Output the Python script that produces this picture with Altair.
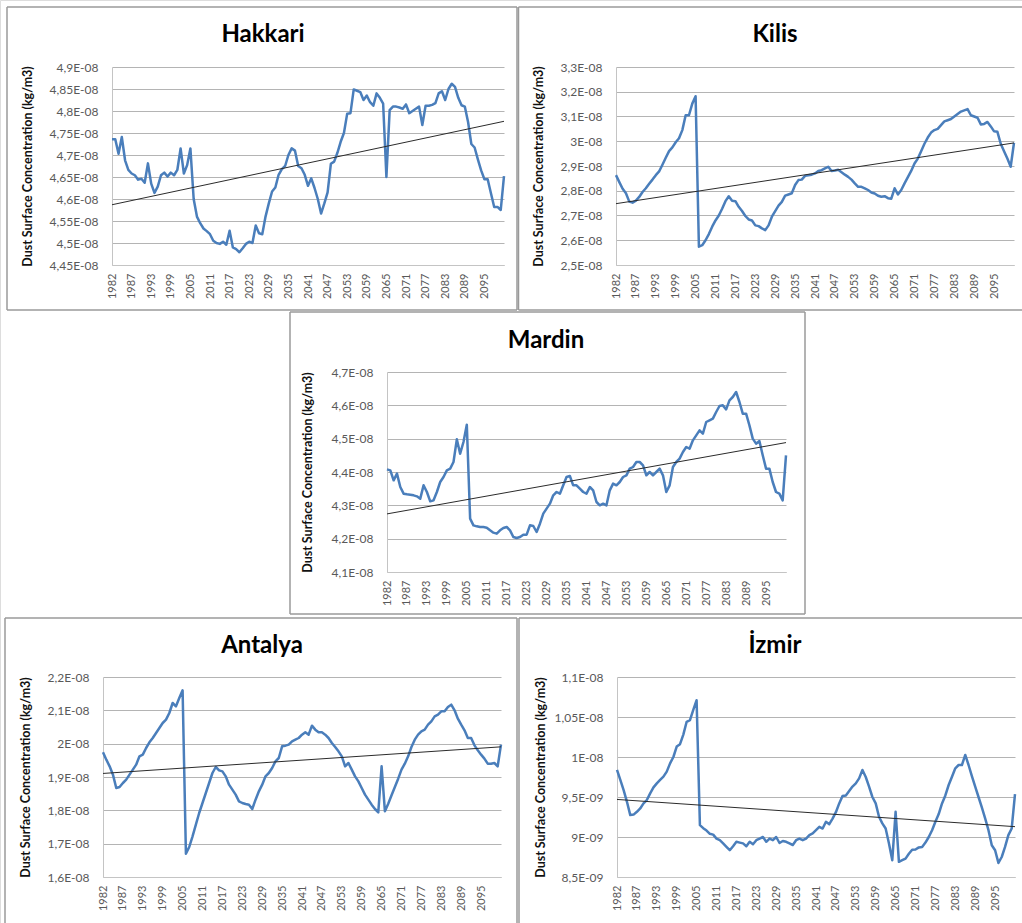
import altair as alt
import pandas as pd

# Category labels along the time axis (one label every LABEL_EVERY steps)
YEAR_LABELS = ["1982", "1987", "1993", "1999", "2005", "2011", "2017", "2023",
               "2029", "2035", "2041", "2047", "2053", "2059", "2065", "2071",
               "2077", "2083", "2089", "2095"]
LABEL_EVERY = 6

# Dust surface concentration series, in units of 1e-8 kg/m3
HAKKARI = [4.736, 4.736, 4.703, 4.741, 4.688, 4.666, 4.658, 4.654, 4.644, 4.646,
           4.637, 4.681, 4.635, 4.614, 4.628, 4.654, 4.660, 4.651, 4.660, 4.654,
           4.666, 4.715, 4.658, 4.677, 4.715, 4.600, 4.560, 4.545, 4.533, 4.527,
           4.520, 4.505, 4.500, 4.498, 4.503, 4.496, 4.528, 4.490, 4.486, 4.479,
           4.488, 4.498, 4.503, 4.500, 4.540, 4.522, 4.520, 4.560, 4.590, 4.617,
           4.626, 4.655, 4.668, 4.675, 4.700, 4.715, 4.710, 4.675, 4.670, 4.655,
           4.630, 4.647, 4.625, 4.600, 4.567, 4.590, 4.615, 4.680, 4.685, 4.705,
           4.730, 4.750, 4.794, 4.795, 4.849, 4.846, 4.843, 4.825, 4.835, 4.820,
           4.812, 4.840, 4.830, 4.817, 4.650, 4.802, 4.810, 4.810, 4.808, 4.805,
           4.815, 4.795, 4.800, 4.805, 4.810, 4.768, 4.812, 4.812, 4.814, 4.818,
           4.840, 4.845, 4.825, 4.850, 4.862, 4.855, 4.830, 4.813, 4.810, 4.775,
           4.725, 4.717, 4.690, 4.665, 4.645, 4.645, 4.613, 4.582, 4.582, 4.575,
           4.652]

KILIS = [2.863, 2.835, 2.808, 2.790, 2.756, 2.752, 2.760, 2.775, 2.795, 2.810,
         2.828, 2.845, 2.863, 2.878, 2.905, 2.933, 2.960, 2.975, 2.996, 3.012,
         3.045, 3.105, 3.105, 3.152, 3.182, 2.574, 2.580, 2.600, 2.625, 2.655,
         2.680, 2.700, 2.727, 2.758, 2.778, 2.760, 2.758, 2.735, 2.718, 2.698,
         2.684, 2.680, 2.660, 2.657, 2.648, 2.641, 2.660, 2.695, 2.718, 2.740,
         2.755, 2.780, 2.785, 2.790, 2.823, 2.843, 2.845, 2.860, 2.863, 2.865,
         2.870, 2.880, 2.883, 2.890, 2.897, 2.880, 2.882, 2.885, 2.875, 2.865,
         2.856, 2.845, 2.830, 2.816, 2.816, 2.810, 2.803, 2.793, 2.789, 2.780,
         2.776, 2.778, 2.770, 2.768, 2.810, 2.785, 2.803, 2.830, 2.855, 2.880,
         2.910, 2.930, 2.960, 2.990, 3.015, 3.035, 3.045, 3.050, 3.065, 3.080,
         3.085, 3.090, 3.100, 3.110, 3.120, 3.125, 3.130, 3.105, 3.100, 3.095,
         3.068, 3.070, 3.078, 3.060, 3.040, 3.038, 2.990, 2.960, 2.930, 2.897,
         2.994]

MARDIN = [4.408, 4.405, 4.375, 4.395, 4.355, 4.335, 4.333, 4.332, 4.330, 4.327,
          4.320, 4.360, 4.340, 4.312, 4.315, 4.340, 4.370, 4.385, 4.405, 4.410,
          4.430, 4.498, 4.455, 4.490, 4.542, 4.260, 4.240, 4.237, 4.235, 4.235,
          4.233, 4.225, 4.218, 4.215, 4.225, 4.232, 4.235, 4.225, 4.205, 4.202,
          4.205, 4.212, 4.212, 4.240, 4.238, 4.220, 4.245, 4.275, 4.290, 4.305,
          4.330, 4.340, 4.335, 4.360, 4.385, 4.388, 4.360, 4.360, 4.350, 4.340,
          4.335, 4.355, 4.345, 4.310, 4.300, 4.305, 4.300, 4.345, 4.365, 4.360,
          4.370, 4.385, 4.390, 4.410, 4.415, 4.430, 4.430, 4.420, 4.390, 4.400,
          4.390, 4.400, 4.410, 4.390, 4.340, 4.360, 4.415, 4.430, 4.440, 4.460,
          4.475, 4.470, 4.495, 4.510, 4.525, 4.515, 4.550, 4.555, 4.560, 4.580,
          4.598, 4.600, 4.588, 4.615, 4.625, 4.640, 4.610, 4.575, 4.575, 4.540,
          4.500, 4.485, 4.493, 4.450, 4.410, 4.410, 4.370, 4.340, 4.335, 4.315,
          4.450]

ANTALYA = [1.974, 1.952, 1.932, 1.907, 1.867, 1.870, 1.882, 1.892, 1.907, 1.922,
           1.937, 1.962, 1.967, 1.987, 2.004, 2.017, 2.032, 2.047, 2.062, 2.072,
           2.092, 2.122, 2.112, 2.137, 2.160, 1.670, 1.690, 1.722, 1.757, 1.792,
           1.822, 1.852, 1.882, 1.912, 1.930, 1.920, 1.917, 1.902, 1.877, 1.862,
           1.847, 1.827, 1.822, 1.819, 1.817, 1.804, 1.832, 1.857, 1.877, 1.902,
           1.912, 1.927, 1.947, 1.957, 1.992, 1.994, 1.997, 2.007, 2.012, 2.017,
           2.027, 2.034, 2.027, 2.054, 2.042, 2.034, 2.034, 2.027, 2.017, 2.002,
           1.990, 1.977, 1.962, 1.932, 1.942, 1.922, 1.902, 1.887, 1.867, 1.847,
           1.832, 1.817, 1.804, 1.794, 1.932, 1.797, 1.820, 1.845, 1.870, 1.895,
           1.922, 1.940, 1.962, 1.990, 2.012, 2.027, 2.037, 2.042, 2.057, 2.067,
           2.082, 2.087, 2.097, 2.097, 2.110, 2.117, 2.100, 2.075, 2.057, 2.040,
           2.017, 2.017, 1.995, 1.980, 1.967, 1.955, 1.940, 1.940, 1.942, 1.932,
           1.997]

# Izmir, in units of 1e-9 kg/m3
IZMIR = [9.838, 9.713, 9.587, 9.440, 9.274, 9.280, 9.315, 9.357, 9.420, 9.462,
         9.545, 9.620, 9.670, 9.713, 9.754, 9.817, 9.920, 10.000, 10.130, 10.160,
         10.280, 10.440, 10.460, 10.590, 10.710, 9.148, 9.110, 9.080, 9.040, 9.030,
         8.980, 8.960, 8.920, 8.877, 8.835, 8.885, 8.940, 8.930, 8.920, 8.885,
         8.940, 8.910, 8.960, 8.980, 9.000, 8.940, 8.980, 8.960, 9.000, 8.925,
         8.950, 8.940, 8.920, 8.900, 8.960, 8.980, 8.960, 8.980, 9.023, 9.044,
         9.085, 9.127, 9.106, 9.190, 9.160, 9.230, 9.310, 9.420, 9.512, 9.520,
         9.575, 9.630, 9.670, 9.733, 9.838, 9.750, 9.630, 9.500, 9.420, 9.253,
         9.170, 9.106, 8.920, 8.710, 9.315, 8.690, 8.710, 8.730, 8.790, 8.840,
         8.843, 8.870, 8.876, 8.930, 9.000, 9.085, 9.190, 9.286, 9.420, 9.520,
         9.650, 9.754, 9.859, 9.900, 9.900, 10.026, 9.900, 9.760, 9.630, 9.500,
         9.370, 9.232, 9.085, 8.897, 8.835, 8.676, 8.750, 8.876, 9.023, 9.106,
         9.537]

# Value-axis tick labels, written the way they are printed
HAKKARI_TICKS = ["4,45E-08", "4,5E-08", "4,55E-08", "4,6E-08", "4,65E-08",
                 "4,7E-08", "4,75E-08", "4,8E-08", "4,85E-08", "4,9E-08"]
KILIS_TICKS = ["2,5E-08", "2,6E-08", "2,7E-08", "2,8E-08", "2,9E-08",
               "3E-08", "3,1E-08", "3,2E-08", "3,3E-08"]
MARDIN_TICKS = ["4,1E-08", "4,2E-08", "4,3E-08", "4,4E-08", "4,5E-08",
                "4,6E-08", "4,7E-08"]
ANTALYA_TICKS = ["1,6E-08", "1,7E-08", "1,8E-08", "1,9E-08", "2E-08",
                 "2,1E-08", "2,2E-08"]
IZMIR_TICKS = ["8,5E-09", "9E-09", "9,5E-09", "1E-08", "1,05E-08", "1,1E-08"]

Y_TITLE = "Dust Surface Concentration (kg/m3)"

CANVAS_W, CANVAS_H = 1022, 923
FONT = "Lato"
BLUE = "#4a7ebb"
TREND = "#2b2b2b"
GRID = "#b4b4b4"
AXIS_LINE = "#c4c4c4"
LABEL = "#595959"
BORDER = "#9a9a9a"

# Page layout in pixels: plot origin and size, title anchor,
# value-axis title x, and the border segments of each panel.
PANELS = [
    dict(name="Hakkari", values=HAKKARI, unit=1e-8, ticks=HAKKARI_TICKS,
         origin=(112, 67), size=(392, 198), title=(263, 42), ytitle=27,
         border=[(7, 7, 517, 7), (7, 7, 7, 310), (517, 7, 517, 310), (7, 310, 517, 310)]),
    dict(name="Kilis", values=KILIS, unit=1e-8, ticks=KILIS_TICKS,
         origin=(616, 67), size=(398, 198), title=(775, 42), ytitle=538,
         border=[(518.5, 7, 1030, 7), (518.5, 7, 518.5, 310), (518.5, 310, 1030, 310)]),
    dict(name="Mardin", values=MARDIN, unit=1e-8, ticks=MARDIN_TICKS,
         origin=(387, 372), size=(399, 200), title=(546, 348), ytitle=307,
         border=[(290, 312, 805, 312), (290, 312, 290, 614), (805, 312, 805, 614), (290, 614, 805, 614)]),
    dict(name="Antalya", values=ANTALYA, unit=1e-8, ticks=ANTALYA_TICKS,
         origin=(103, 677), size=(398, 200), title=(262, 653), ytitle=25,
         border=[(5, 618, 517, 618), (5, 618, 5, 930), (517, 618, 517, 930)]),
    dict(name="İzmir", values=IZMIR, unit=1e-9, ticks=IZMIR_TICKS,
         origin=(617, 677), size=(398, 200), title=(775, 653), ytitle=540,
         border=[(519, 618, 1030, 618), (519, 618, 519, 930)]),
]

ONE = pd.DataFrame({"k": [0]})


def js_list(items):
    return "[" + ", ".join(items) + "]"


def panel(p):
    ox, oy = p["origin"]
    w, h = p["size"]
    values = p["values"]
    df = pd.DataFrame({"step": list(range(len(values))),
                       "value": [v * p["unit"] for v in values]})

    tick_vals = [float(t.replace(",", ".")) for t in p["ticks"]]
    y_label_expr = (js_list([f"'{t}'" for t in p["ticks"]]) +
                    "[indexof(" + js_list([repr(v) for v in tick_vals]) + ", datum.value)]")
    x_positions = [i * LABEL_EVERY for i in range(len(YEAR_LABELS))]
    x_label_expr = (js_list([f"'{y}'" for y in YEAR_LABELS]) +
                    f"[round(datum.value / {LABEL_EVERY})]")

    # Each panel owns its scales; the ranges place it on the page.
    x_enc = alt.X(
        "step:Q",
        scale=alt.Scale(domain=[0, len(values) - 1], range=[ox, ox + w],
                        nice=False, zero=False),
        axis=alt.Axis(orient="bottom", offset=(oy + h) - CANVAS_H,
                      values=x_positions, labelExpr=x_label_expr, title=None,
                      labelAngle=270, labelAlign="right", labelBaseline="middle",
                      labelFont=FONT, labelFontSize=11, labelColor=LABEL,
                      labelPadding=8, labelFlush=False, labelOverlap=False,
                      ticks=False, grid=False, domain=True,
                      domainColor=AXIS_LINE, domainWidth=1),
    )
    y_enc = alt.Y(
        "value:Q",
        scale=alt.Scale(domain=[tick_vals[0], tick_vals[-1]], range=[oy + h, oy],
                        nice=False, zero=False),
        axis=alt.Axis(orient="left", offset=-ox,
                      values=tick_vals, labelExpr=y_label_expr,
                      labelFont=FONT, labelFontSize=12, labelColor=LABEL,
                      labelPadding=14, labelOverlap=False, labelFlush=False,
                      ticks=False, grid=True, gridColor=GRID, gridWidth=1,
                      domain=True, domainColor=AXIS_LINE, domainWidth=1,
                      title=Y_TITLE, titleFont=FONT, titleFontSize=12.5,
                      titleFontWeight="bold", titleColor="#111111",
                      titleAngle=270, titleAlign="center", titleBaseline="middle",
                      titleX=p["ytitle"] - ox, titleY=oy + h / 2),
    )

    base = alt.Chart(df)
    series = base.mark_line(color=BLUE, strokeWidth=2.5, strokeJoin="round").encode(
        x=x_enc, y=y_enc)
    trend = base.transform_regression("step", "value").mark_line(
        color=TREND, strokeWidth=1).encode(x=x_enc, y=y_enc)
    return alt.layer(series, trend)


def decorations(p):
    sides = [
        alt.Chart(ONE).mark_rule(color=BORDER, strokeWidth=1.5).encode(
            x=alt.value(a), x2=alt.value(c), y=alt.value(b), y2=alt.value(d))
        for (a, b, c, d) in p["border"]
    ]
    tx, ty = p["title"]
    title = alt.Chart(ONE).mark_text(
        text=p["name"], font=FONT, fontSize=24, fontWeight="bold",
        align="center", baseline="alphabetic", color="#000000",
    ).encode(x=alt.value(tx), y=alt.value(ty))
    return sides + [title]


layers = [panel(p) for p in PANELS]
for p in PANELS:
    layers.extend(decorations(p))

chart = alt.layer(*layers).resolve_scale(
    x="independent", y="independent"
).resolve_axis(
    x="independent", y="independent"
).properties(
    width=CANVAS_W, height=CANVAS_H,
    autosize=alt.AutoSizeParams(type="none"), padding=0,
).configure_view(stroke="transparent").configure(background="white")

chart.save("out.html", embed_options={"renderer": "svg", "actions": False})
